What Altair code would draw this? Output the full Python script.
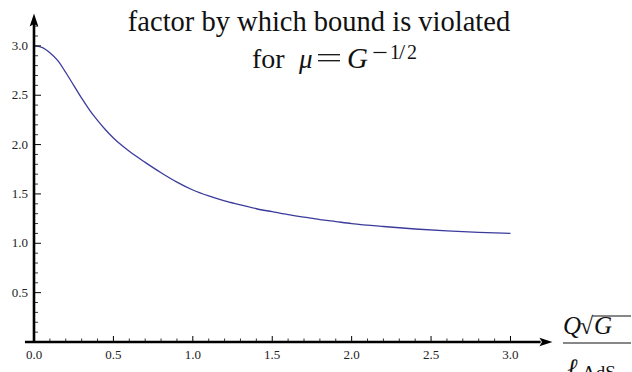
import altair as alt
import pandas as pd

# Curve: violation factor versus Q*sqrt(G)/l_AdS
x_vals = [0.0, 0.05, 0.1, 0.15, 0.2, 0.25, 0.3, 0.35, 0.4, 0.45, 0.5, 0.55, 0.6, 0.7, 0.8, 0.9,
          1.0, 1.1, 1.2, 1.3, 1.4, 1.5, 1.6, 1.7, 1.8, 1.9, 2.0, 2.2, 2.4, 2.6, 2.8, 3.0]
y_vals = [3.00, 2.985, 2.93, 2.85, 2.73, 2.60, 2.47, 2.35, 2.245, 2.15, 2.067, 1.995, 1.932, 1.82, 1.715, 1.62,
          1.54, 1.48, 1.43, 1.39, 1.35, 1.32, 1.29, 1.265, 1.24, 1.22, 1.20, 1.17, 1.145, 1.125, 1.11, 1.10]

# Tick positions and labels
x_major = [0.5, 1.0, 1.5, 2.0, 2.5, 3.0]
x_minor = [0.1, 0.2, 0.3, 0.4, 0.6, 0.7, 0.8, 0.9, 1.1, 1.2, 1.3, 1.4, 1.6, 1.7, 1.8, 1.9,
           2.1, 2.2, 2.3, 2.4, 2.6, 2.7, 2.8, 2.9]
x_label_pos = [0.0, 0.5, 1.0, 1.5, 2.0, 2.5, 3.0]
x_label_txt = ["0.0", "0.5", "1.0", "1.5", "2.0", "2.5", "3.0"]
y_major = [0.5, 1.0, 1.5, 2.0, 2.5, 3.0]
y_minor = [0.1, 0.2, 0.3, 0.4, 0.6, 0.7, 0.8, 0.9, 1.1, 1.2, 1.3, 1.4, 1.6, 1.7, 1.8, 1.9,
           2.1, 2.2, 2.3, 2.4, 2.6, 2.7, 2.8, 2.9, 3.1, 3.2]
y_label_pos = [0.5, 1.0, 1.5, 2.0, 2.5, 3.0]
y_label_txt = ["0.5", "1.0", "1.5", "2.0", "2.5", "3.0"]

X_MAX = 3.23
Y_MAX = 3.333
W, H = 513, 329
SERIF = "Liberation Serif"

xs = alt.Scale(domain=[0, X_MAX], nice=False, zero=False)
ys = alt.Scale(domain=[0, Y_MAX], nice=False, zero=False)

curve_df = pd.DataFrame({"x": x_vals, "y": y_vals})
one = pd.DataFrame({"a": [0]})

curve = alt.Chart(curve_df).mark_line(color="#3b3b9c", strokeWidth=1.3,
                                      interpolate="monotone").encode(
    x=alt.X("x:Q", scale=xs, axis=None),
    y=alt.Y("y:Q", scale=ys, axis=None),
)

# Axis lines
x_axis = alt.Chart(one).mark_rule(color="black", strokeWidth=2.6).encode(
    x=alt.datum(-0.057, scale=xs), x2=alt.datum(3.19), y=alt.value(H))
y_axis = alt.Chart(one).mark_rule(color="black", strokeWidth=2.6).encode(
    y=alt.datum(0, scale=ys), y2=alt.datum(3.27), x=alt.value(0))

# Arrow heads
up_head = "M0,-1L0.6,0.8L0,0.45L-0.6,0.8Z"
right_head = "M1,0L-0.8,0.6L-0.45,0L-0.8,-0.6Z"
x_arrow = alt.Chart(one).mark_point(shape=right_head, filled=True, color="black",
                                    opacity=1, size=210, strokeWidth=0).encode(
    x=alt.datum(3.219, scale=xs), y=alt.value(H))
y_arrow = alt.Chart(one).mark_point(shape=up_head, filled=True, color="black",
                                    opacity=1, size=210, strokeWidth=0).encode(
    y=alt.datum(3.255, scale=ys), x=alt.value(0))

# Tick marks
xmaj = alt.Chart(pd.DataFrame({"t": x_major})).mark_rule(color="black", strokeWidth=1).encode(
    x=alt.X("t:Q", scale=xs), y=alt.value(H), y2=alt.value(H - 6))
xmin = alt.Chart(pd.DataFrame({"t": x_minor})).mark_rule(color="black", strokeWidth=0.8).encode(
    x=alt.X("t:Q", scale=xs), y=alt.value(H), y2=alt.value(H - 3.5))
ymaj = alt.Chart(pd.DataFrame({"t": y_major})).mark_rule(color="black", strokeWidth=1).encode(
    y=alt.Y("t:Q", scale=ys), x=alt.value(0), x2=alt.value(7))
ymin = alt.Chart(pd.DataFrame({"t": y_minor})).mark_rule(color="black", strokeWidth=0.8).encode(
    y=alt.Y("t:Q", scale=ys), x=alt.value(0), x2=alt.value(4))
y0tick = alt.Chart(one).mark_rule(color="black", strokeWidth=1).encode(
    y=alt.datum(0, scale=ys), x=alt.value(-9), x2=alt.value(0))

# Tick labels
xlab = alt.Chart(pd.DataFrame({"t": x_label_pos, "s": x_label_txt})).mark_text(
    font=SERIF, fontSize=13, baseline="alphabetic", align="center", color="#222").encode(
    x=alt.X("t:Q", scale=xs), y=alt.value(H + 17), text="s:N")
ylab = alt.Chart(pd.DataFrame({"t": y_label_pos, "s": y_label_txt})).mark_text(
    font=SERIF, fontSize=13, baseline="middle", align="right", color="#222").encode(
    y=alt.Y("t:Q", scale=ys), x=alt.value(-6), text="s:N")


def txt(s, x, y, size, italic=False, align="left"):
    return alt.Chart(one).mark_text(
        text=s, font=SERIF, fontSize=size, align=align, baseline="alphabetic",
        fontStyle="italic" if italic else "normal", color="#111").encode(
        x=alt.value(x), y=alt.value(y))


def bar(x1, x2, y, w=1.2):
    return alt.Chart(one).mark_rule(color="#111", strokeWidth=w).encode(
        x=alt.value(x1), x2=alt.value(x2), y=alt.value(y), y2=alt.value(y))


# Title (two lines)
title1 = txt("factor by which bound is violated", 285, 18, 28.5, align="center")
title2 = [
    txt("for", 218, 54.5, 28),
    txt("μ", 265, 54.5, 27, italic=True),
    bar(284, 306, 41.7, 1.3),   # equals sign
    bar(284, 306, 47.7, 1.3),
    txt("G", 313, 54.5, 29, italic=True),
    bar(339.5, 352.5, 39.5, 1.2),   # superscript minus sign
    txt("1", 356, 46, 20),
    txt("/", 365, 46, 22),
    txt("2", 373, 46, 20),
]

# x-axis label as a fraction
frac_bar = bar(529, 597, H + 1)
sqrt_bar = bar(559, 597, 303)
num = [
    txt("Q", 529, 321, 25, italic=True),
    txt("√", 546, 321, 24),
    txt("G", 560, 321, 25, italic=True),
]
den = [
    txt("ℓ", 533, 363, 25, italic=True),
    txt("AdS", 548, 366, 19),
]

chart = alt.layer(
    curve, xmin, xmaj, ymin, ymaj, y0tick, x_axis, y_axis, x_arrow, y_arrow, xlab, ylab,
    title1, *title2, frac_bar, sqrt_bar, *num, *den,
).properties(
    width=W, height=H,
    autosize=alt.AutoSizeParams(type="none"),
    padding={"left": 34, "top": 13, "right": 85, "bottom": 30},
).configure(background="white").configure_view(stroke=None)

chart.save("out.html", embed_options={"renderer": "svg", "actions": False})
